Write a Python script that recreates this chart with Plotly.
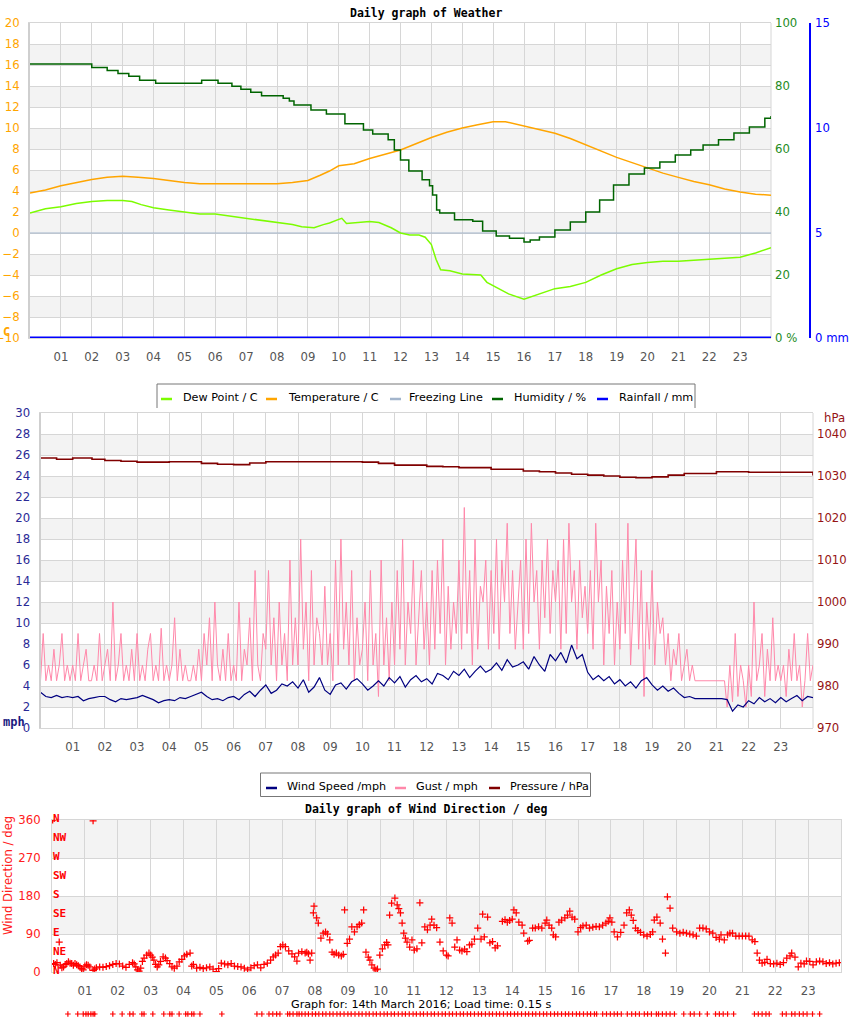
import plotly.graph_objects as go

W, H = 850, 1017

# ---------------- shared tick labels ----------------
HOUR_TICKS = [1, 2, 3, 4, 5, 6, 7, 8, 9, 10, 11, 12, 13, 14, 15, 16, 17, 18, 19, 20, 21, 22, 23]
HOUR_LABELS = ["01", "02", "03", "04", "05", "06", "07", "08", "09", "10", "11", "12",
               "13", "14", "15", "16", "17", "18", "19", "20", "21", "22", "23"]

# ---------------- chart 1: weather ----------------
temp_h = [0, 0.5, 1.0, 1.5, 2.0, 2.5, 3.0, 3.5, 4.0, 4.5, 5.0, 5.5, 6.0, 7.0, 8.0, 8.5, 9.0, 9.4, 9.7,
          10.0, 10.5, 11.0, 11.5, 12.0, 12.5, 13.0, 13.5, 14.0, 14.5, 15.0, 15.4, 16.0, 16.5, 17.0,
          17.5, 18.0, 18.5, 19.0, 19.5, 20.0, 20.5, 21.0, 21.5, 22.0, 22.5, 23.0, 23.5, 24.0]
temp_c = [3.8, 4.1, 4.5, 4.8, 5.1, 5.3, 5.4, 5.3, 5.2, 5.0, 4.8, 4.7, 4.7, 4.7, 4.7, 4.8, 5.0, 5.5, 5.9,
          6.4, 6.6, 7.1, 7.5, 7.9, 8.5, 9.1, 9.6, 10.0, 10.3, 10.6, 10.6, 10.2, 9.9, 9.5,
          9.0, 8.4, 7.8, 7.2, 6.7, 6.2, 5.7, 5.3, 4.9, 4.6, 4.2, 3.9, 3.7, 3.6]

dew_h = [0, 0.5, 1.0, 1.5, 2.0, 2.5, 3.0, 3.3, 3.6, 4.0, 4.5, 5.0, 5.5, 6.0, 6.5, 7.0, 7.5, 8.0, 8.5,
         8.8, 9.2, 9.5, 9.7, 10.0, 10.1, 10.25, 10.6, 11.0, 11.3, 11.7, 12.0, 12.3, 12.6, 12.8, 13.0,
         13.15, 13.3, 13.6, 14.0, 14.6, 14.8, 15.2, 15.5, 16.0, 16.3, 16.6, 17.0, 17.5, 17.8, 18.0,
         18.5, 19.0, 19.5, 20.0, 20.5, 21.0, 21.5, 22.0, 22.5, 23.0, 23.5, 24.0]
dew_c = [1.9, 2.3, 2.5, 2.8, 3.0, 3.1, 3.1, 3.0, 2.7, 2.4, 2.2, 2.0, 1.8, 1.8, 1.6, 1.4, 1.2, 1.0, 0.8,
         0.6, 0.5, 0.8, 0.95, 1.3, 1.4, 0.9, 1.0, 1.1, 1.0, 0.5, 0.0, -0.2, -0.2, -0.4, -1.1,
         -2.5, -3.5, -3.6, -3.9, -4.0, -4.7, -5.3, -5.8, -6.3, -6.0, -5.7, -5.3, -5.1, -4.9, -4.7,
         -4.0, -3.4, -3.0, -2.8, -2.7, -2.7, -2.6, -2.5, -2.4, -2.3, -1.9, -1.4]

hum_h = [0, 2.0, 2.5, 2.85, 3.2, 3.55, 4.07, 5.56, 6.09, 6.54, 6.83, 7.15, 7.5, 8.2, 8.4, 8.55, 9.1,
         9.6, 10.2, 10.8, 11.1, 11.6, 11.8, 12.0, 12.27, 12.7, 12.94, 13.04, 13.17, 13.27, 13.75,
         14.34, 14.66, 15.1, 15.53, 16.0, 16.2, 16.5, 17.0, 17.5, 18.0, 18.45, 18.9, 19.4, 19.9,
         20.4, 20.9, 21.4, 21.8, 22.3, 22.8, 23.3, 23.8, 24.0]
hum_pct = [87.0, 85.9, 84.9, 84.0, 83.1, 81.8, 80.9, 81.8, 80.9, 79.9, 79.0, 78.0, 76.9, 76.1, 75.2, 74.0, 72.4,
           71.1, 68.0, 66.0, 64.8, 62.9, 59.7, 56.5, 53.0, 50.2, 48.3, 45.4, 40.6, 39.7, 37.5,
           37.1, 34.0, 32.4, 31.7, 30.5, 31.1, 32.1, 34.3, 36.8, 40.0, 43.8, 48.6, 52.1, 54.0,
           55.9, 58.1, 59.7, 61.3, 62.9, 65.1, 67.0, 69.8, 70.5]

freeze_h = [0, 24]
freeze_c = [0, 0]
rain_h = [0, 24]
rain_mm = [0, 0]

# ---------------- chart 2: wind / pressure ----------------
# wind speed every 10 minutes (mph)
speed_mph = [
    3.4, 3.0, 2.9, 3.1, 2.9, 3.0,
    2.9, 3.0, 2.6, 2.8, 2.9, 3.0,
    3.0, 2.7, 2.5, 2.8, 2.7, 2.8,
    2.9, 3.1, 2.9, 2.7, 2.4, 2.6,
    2.7, 2.6, 2.9, 2.8, 3.0, 3.2,
    3.4, 3.0, 2.7, 2.8, 2.6, 2.9,
    3.0, 2.7, 3.2, 3.5, 3.0, 3.6,
    4.1, 3.3, 3.6, 4.2, 4.0, 4.4,
    3.8, 4.6, 3.4, 3.9, 4.8, 3.6,
    3.2, 4.1, 4.3, 3.7, 4.4, 4.7,
    4.2, 3.6, 4.0, 4.5, 4.0, 4.8,
    4.3, 4.9, 3.9, 4.6, 5.0, 4.4,
    4.7, 4.2, 5.2, 5.0, 4.6, 5.4,
    5.0, 5.6, 4.8, 5.4, 5.9, 5.3,
    5.6, 6.2, 5.5, 6.5, 5.8, 6.0,
    6.3, 5.6, 6.8, 6.0, 5.4, 7.0,
    6.4, 7.2, 6.2, 7.9, 6.6, 7.0,
    5.3, 4.6, 5.0, 4.5, 4.9, 4.2,
    4.6, 4.0, 4.4, 3.8, 4.5, 4.8,
    4.1, 3.6, 4.0, 3.5, 3.8, 3.3,
    2.9, 3.0, 2.8, 2.8, 2.8, 2.8,
    2.8, 2.8, 2.7, 1.6, 2.2, 2.0,
    2.6, 2.3, 2.9, 2.5, 2.8, 2.4,
    2.9, 2.5, 2.8, 3.1, 2.6, 3.0,
    2.9]

# gusts every 5 minutes (mph)
gust_mph = [
    4.5, 9, 4.5, 6, 4.5, 7.5, 4.5, 6, 9, 4.5, 6, 4.5,
    6, 4.5, 9, 4.5, 6, 7.5, 4.5, 4.5, 6, 4.5, 9, 4.5,
    6, 7.5, 4.5, 12, 4.5, 6, 9, 4.5, 6, 4.5, 7.5, 4.5,
    9, 4.5, 6, 4.5, 7.5, 9, 4.5, 6, 4.5, 9.5, 4.5, 6,
    4.5, 6, 10.5, 4.5, 7.5, 4.5, 6, 4.5, 4.5, 6, 4.5, 7.5,
    4.5, 9, 6, 10.5, 4.5, 12, 6, 4.5, 7.5, 4.5, 9, 4.5,
    6, 4.5, 12, 4.5, 7.5, 6, 10.5, 4.5, 15, 6, 4.5, 9,
    7.5, 15, 6, 10.5, 4.5, 12, 6, 9, 4.5, 16, 6, 10.5,
    6, 18, 7.5, 12, 4.5, 15, 6, 10.5, 9, 6, 13.5, 6,
    9, 4.5, 16, 6, 18, 7.5, 12, 6, 15, 4.5, 10.5, 6,
    7.5, 12, 4.5, 15, 6, 9, 3, 16, 6, 10.5, 4.5, 12,
    6, 15, 7.5, 18, 6, 12, 9, 16, 6, 10.5, 15, 7.5,
    12, 6, 15, 7.5, 16, 9, 18, 6, 13.5, 7.5, 12, 9,
    16, 7.5, 21, 9, 15, 6, 18, 7.5, 13.5, 12, 16, 7.5,
    15, 9, 18, 7.5, 16, 12, 19.5, 9, 15, 7.5, 12, 16,
    7.5, 18, 9, 19.5, 12, 15, 7.5, 16, 10.5, 18, 9, 15,
    12, 16, 7.5, 18, 9, 19.5, 12, 15, 7.5, 16, 10.5, 13.5,
    9, 15, 7.5, 19.5, 12, 16, 6, 13.5, 9, 15, 6, 12,
    7.5, 16, 9, 19.5, 6, 12, 18, 7.5, 15, 3, 12, 7.5,
    15, 6, 12, 9, 10.5, 6, 9, 4.5, 7.5, 6, 9, 4.5,
    6, 7.5, 4.5, 6, 4.5, 4.5, 4.5, 4.5, 4.5, 4.5, 4.5, 4.5,
    4.5, 4.5, 4.5, 4.5, 2, 6, 2.5, 9, 3, 6, 4.5, 2,
    6, 3, 12, 4.5, 6, 9, 3, 7.5, 4.5, 10.5, 4.5, 6,
    4.5, 6, 3, 7.5, 4.5, 9, 4.5, 6, 2, 4.5, 9, 4.5,
    6]

press_h = [0, 0.5, 1.0, 1.6, 2.0, 2.5, 3.0, 4.0, 5.0, 5.5, 6.0, 6.5, 7.0, 8.0, 9.0, 10.0, 10.5, 11.0,
           12.0, 12.5, 13.0, 14.0, 15.0, 15.5, 16.0, 16.5, 17.0, 17.5, 18.0, 18.5, 19.0, 19.5,
           20.0, 21.0, 22.0, 23.0, 23.8, 24.0]
press_hpa = [1034.3, 1034.0, 1034.3, 1034.0, 1033.7, 1033.5, 1033.3, 1033.4, 1033.0, 1032.8, 1032.7,
             1033.1, 1033.4, 1033.4, 1033.4, 1033.3, 1033.0, 1032.6, 1032.3, 1032.2, 1032.0, 1031.6,
             1031.2, 1031.0, 1030.7, 1030.4, 1030.2, 1030.0, 1029.7, 1029.6, 1029.8, 1030.2,
             1030.6, 1031.0, 1030.9, 1030.9, 1030.9, 1030.1]

# ---------------- chart 3: wind direction ----------------
dir_h = [0.02, 0.05, 0.1, 0.15, 0.22, 0.25, 0.3, 0.35, 0.4, 0.45, 0.5, 0.55, 0.6, 0.65, 0.7, 0.75, 0.8,
         0.85, 0.9, 0.95, 1.0, 1.05, 1.1, 1.15, 1.25, 1.25, 1.3, 1.35, 1.45, 1.55, 1.65, 1.75, 1.85,
         1.95, 2.05, 2.15, 2.25, 2.35, 2.45, 2.5, 2.55, 2.6, 2.65, 2.7, 2.75, 2.8, 2.88, 2.95, 3.0,
         3.05, 3.1, 3.15, 3.2, 3.25, 3.3, 3.38, 3.45, 3.5, 3.58, 3.65, 3.72, 3.8, 3.87, 3.95, 4.03,
         4.1, 4.2, 4.25, 4.3, 4.4, 4.5, 4.6, 4.7, 4.8, 4.9, 5.0, 5.07, 5.15, 5.25, 5.35, 5.45, 5.55,
         5.65, 5.75, 5.85, 5.95, 6.05, 6.15, 6.25, 6.35, 6.45, 6.55, 6.65, 6.73, 6.8, 6.88, 6.95,
         7.02, 7.1, 7.2, 7.3, 7.38, 7.45, 7.5, 7.6, 7.7, 7.75, 7.8, 7.85, 7.9, 7.95, 7.97, 8.05,
         8.1, 8.18, 8.25, 8.32, 8.38, 8.45, 8.52, 8.58, 8.65, 8.72, 8.8, 8.86, 8.9, 8.98, 9.05,
         9.12, 9.2, 9.28, 9.35, 9.42, 9.48, 9.55, 9.62, 9.67, 9.73, 9.8, 9.85, 9.9, 9.97, 10.05,
         10.12, 10.18, 10.22, 10.27, 10.33, 10.43, 10.5, 10.55, 10.6, 10.65, 10.7, 10.75, 10.8,
         10.88, 10.95, 11.02, 11.1, 11.19, 11.25, 11.34, 11.42, 11.5, 11.55, 11.62, 11.7, 11.8,
         11.9, 12.0, 12.05, 12.1, 12.17, 12.25, 12.32, 12.4, 12.47, 12.55, 12.62, 12.7, 12.77,
         12.85, 12.95, 13.05, 13.1, 13.15, 13.25, 13.32, 13.4, 13.48, 13.55, 13.7, 13.78, 13.85,
         13.92, 14.0, 14.05, 14.12, 14.2, 14.3, 14.35, 14.47, 14.52, 14.62, 14.7, 14.8, 14.9,
         15.0, 15.05, 15.12, 15.2, 15.25, 15.32, 15.42, 15.5, 15.6, 15.68, 15.75, 15.82, 15.9,
         16.0, 16.08, 16.15, 16.25, 16.35, 16.45, 16.55, 16.65, 16.75, 16.85, 16.92, 16.97,
         17.03, 17.1, 17.2, 17.3, 17.4, 17.48, 17.56, 17.62, 17.68, 17.75, 17.82, 17.9, 18.0,
         18.1, 18.2, 18.27, 18.32, 18.4, 18.5, 18.57, 18.66, 18.72, 18.8, 18.88, 19.0, 19.1,
         19.2, 19.3, 19.4, 19.5, 19.6, 19.7, 19.8, 19.9, 20.0, 20.1, 20.2, 20.3, 20.35, 20.45,
         20.55, 20.62, 20.7, 20.8, 20.9, 21.0, 21.1, 21.2, 21.3, 21.38, 21.45, 21.52, 21.6,
         21.68, 21.75, 21.85, 21.95, 22.05, 22.15, 22.25, 22.35, 22.45, 22.5, 22.6, 22.7, 22.78,
         22.88, 22.95, 23.05, 23.15, 23.25, 23.35, 23.45, 23.55, 23.65, 23.75, 23.85, 23.95]
dir_deg = [360, 20, 18, 22, 71, 16, 10, 12, 18, 20, 24, 21, 20, 16, 20, 17, 15,
           12, 8, 5, 14, 17, 16, 12, 4, 358, 7, 10, 12, 11, 13, 15, 18,
           20, 19, 14, 11, 18, 22, 19, 12, 5, 2, 9, 25, 33, 40, 45, 40,
           35, 28, 18, 12, 17, 25, 36, 33, 27, 20, 12, 9, 14, 24, 30, 38,
           42, 45, 14, 18, 9, 11, 8, 10, 12, 7, 1, 8, 21, 19, 17, 20, 14,
           13, 12, 9, 5, 10, 15, 17, 10, 18, 21, 28, 36, 40, 45, 60,
           64, 60, 50, 43, 36, 26, 45, 48, 45, 47, 43, 28, 45, 140, 156, 128,
           116, 80, 92, 95, 90, 76, 47, 42, 45, 40, 38, 42, 147, 68, 78,
           107, 95, 107, 112, 116, 147, 47, 35, 28, 17, 9, 5, 7, 40, 55,
           64, 70, 64, 135, 163, 175, 159, 150, 140, 116, 92, 80, 71,
           59, 76, 52, 55, 164, 69, 107, 100, 111, 125, 111, 105, 71,
           50, 40, 38, 128, 116, 59, 76, 52, 50, 54, 48, 64, 66,
           78, 104, 78, 137, 83, 130, 69, 72, 57, 62, 120, 124, 118,
           122, 125, 147, 140, 118, 111, 92, 73, 75, 104, 104, 107, 104,
           116, 123, 111, 104, 88, 83, 118, 123, 128, 135, 144, 130, 125,
           95, 105, 109, 111, 104, 106, 108, 107, 111, 116, 120, 128,
           118, 95, 83, 94, 111, 140, 147, 135, 122, 104, 98, 94, 88,
           85, 89, 95, 123, 130, 116, 78, 45, 178, 151, 104, 95, 92,
           94, 92, 90, 88, 85, 104, 104, 102, 95, 92, 82, 78, 88, 76,
           88, 92, 92, 85, 85, 85, 85, 85, 76, 72, 45, 28, 21,
           23, 30, 20, 19, 21, 18, 22, 33, 38, 45, 35, 12, 21,
           19, 26, 25, 17, 24, 26, 24, 20, 22, 19, 21, 22]

# small marks shown in the strip under the footer (minutes of the day)
marks_min = [29, 47, 57, 62, 66, 71, 75, 78, 111, 128, 142, 148, 164, 168, 184, 204, 215, 219, 232,
             244, 248, 255, 259, 270, 310, 374, 383, 396, 403, 410, 416, 430, 434, 440, 447, 451,
             456, 462, 468, 475, 481, 487, 494, 500, 507, 513, 520, 526, 533, 540, 546, 553, 560,
             566, 573, 579, 586, 592, 599, 606, 612, 619, 625, 632, 639, 645, 652, 659, 665, 672,
             678, 685, 692, 698, 705, 712, 718, 725, 731, 738, 745, 751, 758, 764, 771, 778, 784,
             791, 798, 804, 811, 817, 824, 831, 837, 844, 850, 857, 864, 870, 877, 883, 890, 897,
             903, 910, 917, 923, 930, 937, 943, 950, 957, 963, 970, 977, 983, 990, 994, 1005, 1012,
             1019, 1026, 1032, 1039, 1050, 1058, 1065, 1072, 1081, 1087, 1094, 1103, 1107, 1114,
             1121, 1128, 1136, 1153, 1165, 1172, 1182, 1196, 1211, 1218, 1225, 1233, 1244, 1282,
             1289, 1296, 1303, 1309, 1333, 1340, 1350, 1356, 1364, 1371, 1378, 1388, 1401]

COMPASS_DEG = [360, 315, 270, 225, 180, 135, 90, 45, 0]
COMPASS_LBL = ["N", "NW", "W", "SW", "S", "SE", "E", "NE", "N"]

# ---------------- helpers ----------------
F = "DejaVu Sans"
FM = "DejaVu Sans Mono"
FS = 10.7
GRID = "#d6d6d6"
BAND = "#f3f3f3"


def px(x):
    return x / W


def py(y):
    return 1 - y / H


speed_h = [i * 10 / 60 for i in range(len(speed_mph))]
gust_h = [i * 5 / 60 for i in range(len(gust_mph))]
marks_h = [m / 60 for m in marks_min]

fig = go.Figure()

# chart 1 traces
fig.add_trace(go.Scatter(x=freeze_h, y=freeze_c, xaxis="x", yaxis="y", mode="lines",
                         line=dict(color="#a3b5cc", width=1.2), name="Freezing Line"))
fig.add_trace(go.Scatter(x=temp_h, y=temp_c, xaxis="x", yaxis="y", mode="lines",
                         line=dict(color="#ffa500", width=1.5), name="Temperature / C"))
fig.add_trace(go.Scatter(x=dew_h, y=dew_c, xaxis="x", yaxis="y", mode="lines",
                         line=dict(color="#7cfc00", width=1.5), name="Dew Point / C"))
fig.add_trace(go.Scatter(x=hum_h, y=hum_pct, xaxis="x", yaxis="y2", mode="lines",
                         line=dict(color="#006400", width=1.5, shape="hv"), name="Humidity / %"))
fig.add_trace(go.Scatter(x=rain_h, y=rain_mm, xaxis="x", yaxis="y3", mode="lines",
                         line=dict(color="#0000ff", width=3), name="Rainfall / mm"))

# chart 2 traces
fig.add_trace(go.Scatter(x=gust_h, y=gust_mph, xaxis="x2", yaxis="y4", mode="lines",
                         line=dict(color="#ff88aa", width=1), name="Gust / mph"))
fig.add_trace(go.Scatter(x=speed_h, y=speed_mph, xaxis="x2", yaxis="y4", mode="lines",
                         line=dict(color="#000080", width=1.2), name="Wind Speed /mph"))
fig.add_trace(go.Scatter(x=press_h, y=press_hpa, xaxis="x2", yaxis="y5", mode="lines",
                         line=dict(color="#800000", width=1.6, shape="hv"), name="Pressure / hPa"))

# chart 3 traces
fig.add_trace(go.Scatter(x=dir_h, y=dir_deg, xaxis="x3", yaxis="y6", mode="markers",
                         marker=dict(symbol="cross-thin", size=5, color="#ff0000",
                                     line=dict(color="#ff0000", width=1.25)),
                         name="Wind Direction"))
fig.add_trace(go.Scatter(x=marks_h, y=[0] * len(marks_h), xaxis="x4", yaxis="y7", mode="markers",
                         marker=dict(symbol="cross-thin", size=4, color="#ff0000",
                                     line=dict(color="#ff0000", width=1.2)),
                         name="marks"))

xcommon = dict(range=[0, 24], tickvals=HOUR_TICKS, ticktext=HOUR_LABELS, showgrid=True,
               gridcolor=GRID, gridwidth=1, zeroline=False, showline=True, mirror=True,
               linecolor=GRID, linewidth=1, ticks="", ticklabelstandoff=8, automargin=False,
               tickfont=dict(family=F, size=FS + 1, color="#555555"), fixedrange=True)

layout = dict(
    width=W, height=H, margin=dict(l=0, r=0, t=0, b=0, autoexpand=False),
    paper_bgcolor="white", plot_bgcolor="white", showlegend=False,
    font=dict(family=F, size=FS),
    xaxis=dict(domain=[px(30), px(771)], anchor="y", **xcommon),
    yaxis=dict(domain=[py(338), py(23)], anchor="x", range=[-10, 20], dtick=2, tick0=0,
               showgrid=True, gridcolor=GRID, zeroline=False, showline=True, linewidth=2,
               linecolor="#cfcfcf", ticks="", ticklabelstandoff=6, automargin=False,
               tickfont=dict(family=F, size=FS + 1, color="#ffa500")),
    yaxis2=dict(overlaying="y", side="right", anchor="x", range=[0, 100],
                tickvals=[0, 20, 40, 60, 80, 100], ticktext=["0 %", "20", "40", "60", "80", "100"],
                showgrid=False, zeroline=False, showline=False, ticks="", ticklabelstandoff=3,
                automargin=False,
                tickfont=dict(family=F, size=FS + 1, color="#1e8c1e")),
    yaxis3=dict(overlaying="y", side="right", anchor="free", position=px(810), range=[0, 15],
                tickvals=[0, 5, 10, 15], ticktext=["0 mm", "5", "10", "15"],
                showgrid=False, zeroline=False, showline=True, linecolor="#0000ff", linewidth=1.5,
                ticks="", ticklabelstandoff=2, automargin=False,
                tickfont=dict(family=F, size=FS + 1, color="#0000ff")),
    xaxis2=dict(domain=[px(40.5), px(813)], anchor="y4", **xcommon),
    yaxis4=dict(domain=[py(728), py(413)], anchor="x2", range=[0, 30], dtick=2, tick0=0,
                showgrid=True, gridcolor=GRID, zeroline=False, showline=True, linewidth=2,
                linecolor="#cfcfcf", ticks="", ticklabelstandoff=6, automargin=False,
                tickfont=dict(family=F, size=FS + 1, color="#2a2a96")),
    yaxis5=dict(overlaying="y4", side="right", anchor="x2", range=[970, 1045],
                tickvals=[970, 980, 990, 1000, 1010, 1020, 1030, 1040],
                showgrid=False, zeroline=False, showline=False, ticks="", ticklabelstandoff=3,
                automargin=False,
                tickfont=dict(family=F, size=FS + 1, color="#961414")),
    xaxis3=dict(domain=[px(52), px(841)], anchor="y6", **xcommon),
    yaxis6=dict(domain=[py(972), py(820)], anchor="x3", range=[0, 360],
                tickvals=[0, 90, 180, 270, 360],
                showgrid=True, gridcolor=GRID, zeroline=False, showline=True, linewidth=1,
                linecolor=GRID, mirror=True, ticks="", ticklabelstandoff=8, automargin=False,
                tickfont=dict(family=F, size=FS + 1, color="#ff2020")),
    xaxis4=dict(domain=[px(52), px(841)], anchor="y7", range=[0, 24], visible=False,
                automargin=False),
    yaxis7=dict(domain=[0, 0.0059], anchor="x4", range=[-1, 1], visible=False, automargin=False),
)
fig.update_layout(**layout)

shapes = []
# background bands
for y0 in [16, 12, 8, 4, 0, -4, -8]:
    shapes.append(dict(type="rect", xref="x domain", yref="y", x0=0, x1=1, y0=y0, y1=y0 + 2,
                       fillcolor=BAND, line=dict(width=0), layer="below"))
for y0 in [26, 22, 18, 14, 10, 6, 2]:
    shapes.append(dict(type="rect", xref="x2 domain", yref="y4", x0=0, x1=1, y0=y0, y1=y0 + 2,
                       fillcolor=BAND, line=dict(width=0), layer="below"))
for y0 in [270, 90]:
    shapes.append(dict(type="rect", xref="x3 domain", yref="y6", x0=0, x1=1, y0=y0, y1=y0 + 90,
                       fillcolor=BAND, line=dict(width=0), layer="below"))
# right borders of charts 1 and 2
shapes.append(dict(type="line", xref="x domain", yref="y domain", x0=1, x1=1, y0=0, y1=1,
                   line=dict(color=GRID, width=1), layer="below"))
shapes.append(dict(type="line", xref="x2 domain", yref="y4 domain", x0=1, x1=1, y0=0, y1=1,
                   line=dict(color=GRID, width=1), layer="below"))

annotations = []


def txt(x, y, s, color="#000000", size=FS + 1, family=F, xanchor="left", **kw):
    annotations.append(dict(x=px(x), y=py(y), xref="paper", yref="paper", text=s, showarrow=False,
                            xanchor=xanchor, yanchor="middle",
                            font=dict(family=family, size=size, color=color), **kw))


# legend 1 (manual)
shapes.append(dict(type="path", xref="paper", yref="paper",
                   path=f"M {px(157)} {py(408)} L {px(157)} {py(384)} L {px(695)} {py(384)} L {px(695)} {py(408)}",
                   line=dict(color="#777777", width=1)))
leg1 = [(161, "#7cfc00", "Dew Point / C", 181), (266, "#ffa500", "Temperature / C", 286),
        (390, "#a3b5cc", "Freezing Line", 407), (492, "#006400", "Humidity / %", 512),
        (597, "#0000ff", "Rainfall / mm", 617)]
for sx, col, label, tx in leg1:
    shapes.append(dict(type="line", xref="paper", yref="paper", x0=px(sx), x1=px(sx + 11),
                       y0=py(399), y1=py(399), line=dict(color=col, width=2.5)))
    txt(tx, 397, label, size=FS + 0.5)

# legend 2 (manual)
shapes.append(dict(type="rect", xref="paper", yref="paper", x0=px(260.5), x1=px(590.5),
                   y0=py(773), y1=py(796.5), line=dict(color="#777777", width=1), fillcolor="white"))
leg2 = [(266, "#000080", "Wind Speed /mph", 285), (395, "#ff88aa", "Gust / mph", 414),
        (489, "#800000", "Pressure / hPa", 508)]
for sx, col, label, tx in leg2:
    shapes.append(dict(type="line", xref="paper", yref="paper", x0=px(sx), x1=px(sx + 11),
                       y0=py(788), y1=py(788), line=dict(color=col, width=2.5)))
    txt(tx, 786, label, size=FS + 0.5)

# titles and axis labels
txt(425.5, 13, "<b>Daily graph of Weather</b>", family=FM, size=11.5, xanchor="center")
txt(1, 332, "<b>C</b>", color="#ffa500", family=FM, size=12)
txt(1, 722, "<b>mph</b>", color="#1a1a80", family=FM, size=12)
txt(822, 418, "hPa", color="#961414", size=FS + 1)
txt(425.5, 809, "<b>Daily graph of Wind Direction / deg</b>", family=FM, size=11.5, xanchor="center")
annotations.append(dict(x=px(8), y=py(876), xref="paper", yref="paper", text="Wind Direction / deg",
                        showarrow=False, textangle=-90, xanchor="center", yanchor="middle",
                        font=dict(family=F, size=FS + 1, color="#ff2020")))
for d, lab in zip(COMPASS_DEG, COMPASS_LBL):
    annotations.append(dict(x=px(51), y=d, xref="paper", yref="y6", text=f"<b>{lab}</b>",
                            showarrow=False, xanchor="left", yanchor="middle", yshift=2,
                            font=dict(family=FM, size=11, color="#ff0000")))
txt(421, 1004, "Graph for: 14th March 2016; Load time: 0.15 s", size=FS + 0.5, xanchor="center")

fig.update_layout(shapes=shapes, annotations=annotations)
fig.write_html("out.html", config={"displayModeBar": False},
               post_script="document.body.style.margin='0px';")
